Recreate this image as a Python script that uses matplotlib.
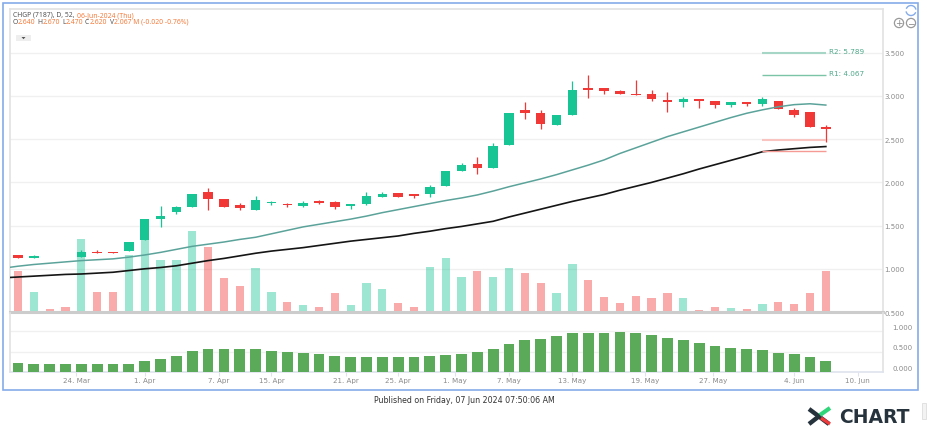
import numpy as np
import matplotlib
matplotlib.use("Agg")
import matplotlib.pyplot as plt
from matplotlib.patches import Rectangle, Circle, Arc, Polygon

opens = [1.16,1.125,1.138,1.138,1.135,1.20,1.20,1.205,1.335,1.58,1.655,1.71,1.89,1.81,1.735,1.685,1.76,1.745,1.73,1.785,
         1.77,1.725,1.755,1.835,1.875,1.86,1.865,1.96,2.13,2.21,2.17,2.435,2.835,2.80,2.67,2.78,3.09,3.09,3.06,3.022,
         3.02,2.955,2.935,2.97,2.945,2.895,2.93,2.905,2.94,2.84,2.81,2.64]
highs = [1.16,1.165,1.138,1.138,1.215,1.22,1.20,1.31,1.58,1.73,1.73,1.86,1.94,1.81,1.76,1.845,1.79,1.76,1.79,1.795,
         1.79,1.755,1.89,1.89,1.875,1.86,1.97,2.135,2.23,2.29,2.46,2.805,2.93,2.835,2.78,3.17,3.24,3.09,3.07,3.18,
         3.07,3.05,2.99,2.97,2.945,2.93,2.93,2.99,2.94,2.86,2.81,2.67]
lows = [1.125,1.12,1.132,1.132,1.135,1.18,1.185,1.205,1.335,1.48,1.64,1.71,1.68,1.71,1.68,1.685,1.74,1.72,1.72,1.745,
        1.69,1.69,1.74,1.83,1.835,1.82,1.83,1.96,2.13,2.10,2.17,2.435,2.73,2.62,2.67,2.78,2.98,3.02,3.02,3.01,
        2.94,2.815,2.87,2.86,2.86,2.87,2.88,2.88,2.85,2.76,2.645,2.47]
closes = [1.13,1.145,1.132,1.132,1.20,1.185,1.185,1.31,1.58,1.61,1.71,1.86,1.81,1.71,1.705,1.795,1.775,1.735,1.76,1.76,
          1.715,1.75,1.84,1.86,1.835,1.84,1.95,2.135,2.205,2.165,2.42,2.805,2.80,2.675,2.78,3.065,3.07,3.06,3.02,3.015,
          2.96,2.93,2.97,2.94,2.895,2.93,2.905,2.96,2.85,2.78,2.645,2.62]

vol_tops = [0.98,0.735,0.54,0.56,1.34,0.735,0.735,1.16,1.33,1.10,1.105,1.44,1.25,0.89,0.80,1.005,0.735,0.62,0.58,0.56,
            0.72,0.585,0.835,0.765,0.60,0.56,1.02,1.125,0.90,0.98,0.91,1.015,0.95,0.83,0.715,1.055,0.865,0.67,0.60,0.69,
            0.66,0.725,0.66,0.525,0.555,0.545,0.54,0.595,0.62,0.59,0.715,0.98]

# first value sits one bar left of the first candle, gets clipped at the frame
ma_teal = [1.005,1.03,1.05,1.065,1.08,1.095,1.105,1.115,1.135,1.16,1.19,1.225,1.26,1.285,1.31,1.34,1.365,1.405,1.445,1.485,
           1.515,1.545,1.575,1.61,1.65,1.685,1.72,1.755,1.79,1.82,1.855,1.90,1.95,1.995,2.04,2.09,2.145,2.20,2.26,2.335,
           2.40,2.465,2.53,2.585,2.64,2.695,2.75,2.80,2.84,2.875,2.90,2.91,2.895]
ma_black = [0.895,0.905,0.915,0.925,0.935,0.94,0.95,0.96,0.98,1.0,1.015,1.035,1.065,1.095,1.12,1.15,1.18,1.205,1.225,1.245,
            1.27,1.295,1.32,1.34,1.36,1.38,1.41,1.435,1.465,1.49,1.52,1.55,1.60,1.645,1.69,1.735,1.78,1.82,1.86,1.91,
            1.955,2.0,2.05,2.10,2.155,2.205,2.255,2.305,2.355,2.375,2.39,2.405,2.415]

osc = [0.215,0.20,0.20,0.18,0.18,0.18,0.18,0.20,0.255,0.32,0.40,0.505,0.57,0.57,0.57,0.555,0.505,0.48,0.465,0.445,
       0.40,0.365,0.365,0.365,0.365,0.365,0.38,0.415,0.44,0.48,0.555,0.68,0.775,0.82,0.89,0.965,0.965,0.965,0.985,0.965,
       0.91,0.835,0.775,0.71,0.645,0.595,0.57,0.54,0.47,0.43,0.355,0.255]

price_ticks = [0.5,1.0,1.5,2.0,2.5,3.0,3.5]
price_labels = ["0.500","1.000","1.500","2.000","2.500","3.000","3.500"]
osc_ticks = [0.0,0.5,1.0]
osc_labels = ["0.000","0.500","1.000"]
date_pos = [3.67,8,12.67,16,20.7,24,27.6,31,35,39.6,43.9,49,53]
date_labels = ["24. Mar","1. Apr","7. Apr","15. Apr","21. Apr","25. Apr","1. May","7. May","13. May","19. May","27. May","4. Jun","10. Jun"]

r_levels = [3.50,3.24]
r_labels = ["R2: 5.789","R1: 4.067"]
s_levels = [2.485,2.36]

GREEN = "#17c494"
RED = "#f23737"
GRID = "#f0f0f0"
FRAME = "#e2e2e2"
TXT = "#8a8a8a"

W, H = 928, 427
fig = plt.figure(figsize=(W/100, H/100), dpi=100, facecolor="white")

def box(left, top, right, bottom):
    return [left/W, 1-bottom/H, (right-left)/W, (bottom-top)/H]

# backdrop in pixel coords for frame, logo and buttons
bg = fig.add_axes([0,0,1,1], zorder=0)
bg.set_xlim(0,W); bg.set_ylim(H,0); bg.axis("off")

ax = fig.add_axes(box(10,10,883,313), zorder=2, facecolor="none")
ax2 = fig.add_axes(box(10,314,883,372.7), zorder=2, facecolor="none")

xlim = ((10-18)/15.84, (883-18)/15.84)
idx = np.arange(len(opens))
o = np.array(opens); c = np.array(closes)
up = c >= o
colors = [GREEN if u else RED for u in up]

ax.set_xlim(xlim)
ax.set_ylim(0.5, 0.5+303/86.4)
ax.set_yticks(price_ticks)
ax.set_xticks([])
ax.set_yticklabels(price_labels, color=TXT, fontsize=5)
ax.tick_params(axis="y", length=0, pad=1, right=True, left=False, labelright=True, labelleft=False)
ax.grid(axis="y", color=GRID, lw=1)
ax.set_axisbelow(True)
for s in ax.spines.values():
    s.set_color(FRAME); s.set_linewidth(1.2)
ax.spines["bottom"].set_color("#cccccc"); ax.spines["bottom"].set_linewidth(2.2)

vol = np.array(vol_tops)
ax.bar(idx, vol-0.5, bottom=0.5, width=0.52, color=colors, alpha=0.42, lw=0, zorder=2)
ax.vlines(idx, lows, highs, colors=colors, lw=0.9, zorder=3)
ax.bar(idx, np.abs(c-o), bottom=np.minimum(o,c), width=0.6, color=colors, lw=0, zorder=4)

ax.plot(np.arange(-1,52), ma_teal, color="#5ba39a", lw=1.1, zorder=5)
ax.plot(np.arange(-1,52), ma_black, color="#151515", lw=1.2, zorder=5)

ax.hlines(r_levels[0], 47, 51, color="#a6d6c5", lw=1.5, zorder=5)
ax.hlines(r_levels[1], 47, 51, color="#7cc4a8", lw=1, zorder=5)
ax.hlines(s_levels[0], 47, 51, color="#f9c4bf", lw=1.5, zorder=5)
ax.hlines(s_levels[1], 47, 51, color="#f59a94", lw=1, zorder=5)
for lv, lb in zip(r_levels, r_labels):
    ax.annotate(lb, (51, lv), xytext=(2.5, 1.5), textcoords="offset points", color="#4fa98a", fontsize=5.2, va="center", ha="left")

ax2.set_xlim(xlim)
ax2.set_ylim(0, 58.7/40.4)
ax2.bar(idx, osc, width=0.68, color="#5aaa5a", lw=0, zorder=3)
ax2.set_yticks(osc_ticks)
ax2.set_yticklabels([])
ax2.tick_params(axis="y", length=0)
ax2.grid(axis="y", color=GRID, lw=1)
ax2.set_axisbelow(True)
ax2.set_xticks(date_pos)
ax2.set_xticklabels(date_labels, color=TXT, fontsize=5.1)
ax2.tick_params(axis="x", length=3, width=0.8, color="#dfe3ee", pad=1)
ax2.spines["top"].set_visible(False)
for s in ["left","right"]:
    ax2.spines[s].set_color(FRAME); ax2.spines[s].set_linewidth(1.2)
ax2.spines["bottom"].set_color("#dfe3ee"); ax2.spines["bottom"].set_linewidth(1.2)
for v, lb in zip(osc_ticks, osc_labels):
    ax2.annotate(lb, (1, v), xycoords=ax2.get_yaxis_transform(), xytext=(6.5, 3), textcoords="offset points",
                 color=TXT, fontsize=5, va="center", ha="left")

# outer blue frame
bg.add_patch(Rectangle((3.5,3.5), 914.5, 387.5, fill=False, ec="#85ace9", lw=1.2))

# header
ORANGE = "#f47c3c"; DARK = "#555555"
bg.text(13, 15.3, "CHGP (7187), D, 52,", color=DARK, fontsize=4.9, family="Noto Sans", va="center", ha="left")
bg.text(76.7, 15.3, "06-Jun-2024 (Thu)", color=ORANGE, fontsize=4.9, family="Noto Sans", va="center", ha="left")
parts = [("O", 13), ("2.640", 18), ("H", 37.7), ("2.670", 43), ("L", 62.3), ("2.470", 66),
         ("C", 85), ("2.620", 90), ("V", 110), ("2.067 M (-0.020 -0.76%)", 114.5)]
for s, x in parts:
    col = DARK if s in "OHLCV" else ORANGE
    bg.text(x, 22.4, s, color=col, fontsize=4.9, family="Noto Sans", va="center", ha="left")

# dropdown button
bg.add_patch(Rectangle((16,36), 15, 6, fc="#eeeeee", ec="none"))
bg.add_patch(Polygon([[21.5,38],[25.5,38],[23.5,40.2]], fc="#555555", ec="none"))

# zoom buttons
for cx, mark in [(899,"+"),(911,"\u2212")]:
    bg.add_patch(Circle((cx,24), 4.6, fill=False, ec="#999999", lw=0.9))
    bg.text(cx, 23.7, mark, color="#888888", fontsize=6.5, ha="center", va="center")
bg.add_patch(Arc((911,11.5), 10, 10, theta1=200, theta2=350, ec="#85ace9", lw=1))
bg.add_patch(Arc((911,11.5), 10, 10, theta1=20, theta2=170, ec="#85ace9", lw=1))

# footer
bg.text(464, 401, "Published on Friday, 07 Jun 2024 07:50:06 AM", color="#333333", fontsize=5.65, ha="center", va="center")

# logo
LOGO = "#26333d"
bg.plot([809,829],[410,425], color=LOGO, lw=3.2, solid_capstyle="butt")
bg.plot([809,818],[425,418], color=LOGO, lw=3.2, solid_capstyle="butt")
bg.plot([820,830],[416,409], color="#2fd67a", lw=3, solid_capstyle="butt")
bg.plot([821,830],[419,425], color="#ee3a3a", lw=2.4, solid_capstyle="butt")
bg.text(839, 417.5, "CHART", color=LOGO, fontsize=13.5, fontweight="bold", ha="left", va="center")

# scroll stub bottom right
bg.add_patch(Rectangle((922,404), 4, 16, fc="#f3f3f3", ec="#dddddd", lw=0.6))

fig.savefig("out.png", dpi=100)
